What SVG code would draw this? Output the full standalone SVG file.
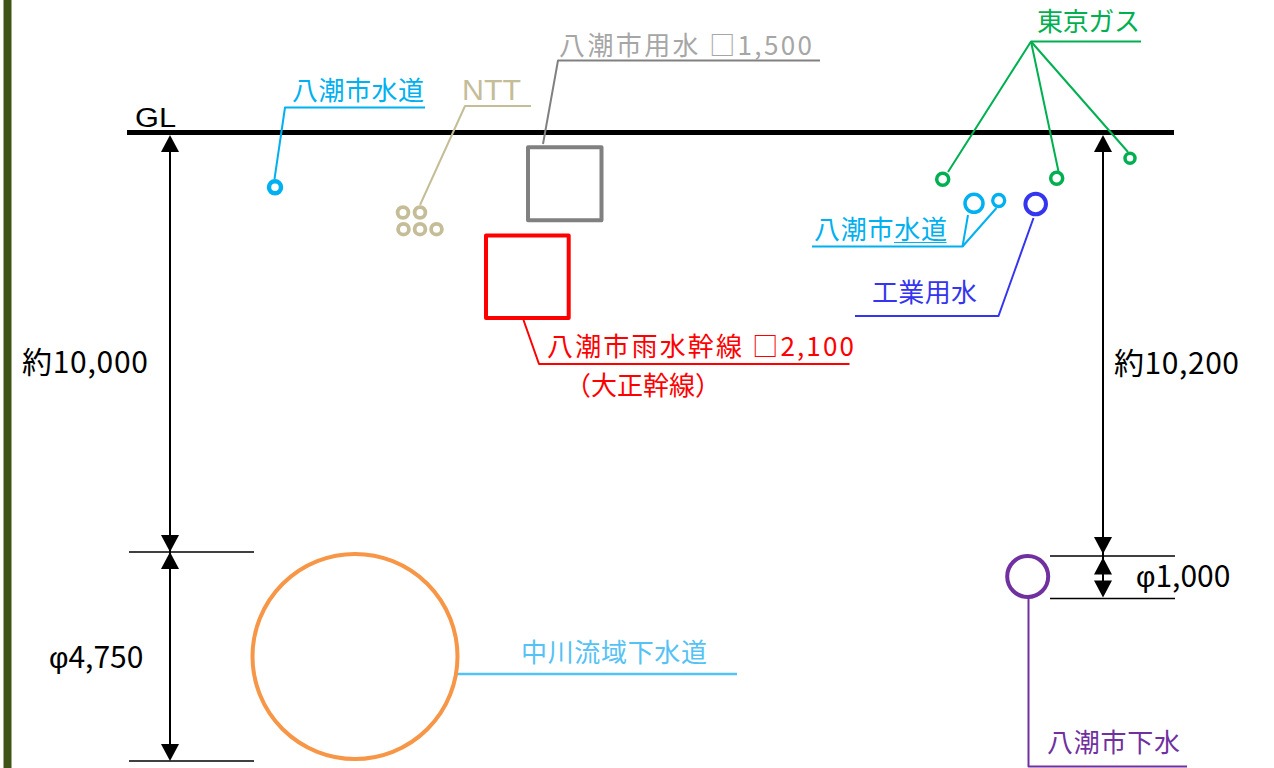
<svg xmlns="http://www.w3.org/2000/svg" width="1274" height="768" viewBox="0 0 1274 768">
<style>
text{font-family:"Noto Sans CJK JP","Noto Sans",sans-serif;}
.jp{font-size:26px;}
.dim{font-size:30px;fill:#000;}
.lat{font-family:"Liberation Sans",sans-serif;}
.phi{font-family:"Liberation Sans",sans-serif;}
.ldr{fill:none;stroke-width:2;stroke-linejoin:round;}
.ext{stroke:#000;stroke-width:1.6;}
.dl{stroke:#000;stroke-width:2;}
.ring{fill:none;}
</style>
<defs>
<path id="ah" d="M0,0 L-9,17 L9,17 Z" fill="#000"/>
</defs>
<rect x="0" y="0" width="1274" height="768" fill="#fff"/>
<rect x="3.5" y="0" width="8" height="768" fill="#405418"/>

<g id="ground">
<line x1="127" y1="132.5" x2="1174" y2="132.5" stroke="#000" stroke-width="5"/>
<text class="lat" x="135" y="126.5" style="font-size:27px" textLength="41" lengthAdjust="spacingAndGlyphs">GL</text>
</g>

<g id="connectors">
<polyline class="ldr" stroke="#00B0F0" points="274.5,179 285,107.5 425,107.5"/>
<polyline class="ldr" stroke="#C4BD97" points="420,205 465,106 531,106"/>
<polyline class="ldr" stroke="#808080" points="543,144 558,60.5 820,60.5"/>
<polyline class="ldr" stroke="#FF0000" points="523.5,320 539,364 849.5,364"/>
<polyline class="ldr" stroke="#00B050" points="948,172 1031,41.5 1141,41.5"/>
<polyline class="ldr" stroke="#00B050" points="1058.5,171.5 1031,41.5"/>
<polyline class="ldr" stroke="#00B050" points="1128,152 1031,41.5"/>
<polyline class="ldr" stroke="#00B0F0" points="812,246.5 962.5,246.5 968,215"/>
<polyline class="ldr" stroke="#00B0F0" points="962.5,246.5 996.5,208"/>
<polyline class="ldr" stroke="#3535F0" points="1033.5,218 998.5,316 855,316"/>
<polyline class="ldr" stroke="#7030A0" points="1028.5,598 1028.5,766.5 1187,766.5"/>
<line x1="457" y1="674" x2="737" y2="674" stroke="#55C2F5" stroke-width="2.5"/>
</g>

<g id="dimension-left">
<line class="ext" x1="129" y1="552" x2="254" y2="552"/>
<line class="ext" x1="129" y1="761" x2="254" y2="761"/>
<line class="dl" x1="170" y1="140" x2="170" y2="755"/>
<use href="#ah" transform="translate(170,135)"/>
<use href="#ah" transform="translate(170,552) rotate(180)"/>
<use href="#ah" transform="translate(170,552)"/>
<use href="#ah" transform="translate(170,761) rotate(180)"/>
<text class="dim" x="22" y="373" textLength="126" lengthAdjust="spacing">約10,000</text>
<text class="dim" x="49" y="668"><tspan class="phi">φ</tspan>4,750</text>
</g>

<g id="dimension-right">
<line class="ext" x1="1050" y1="556" x2="1175" y2="556"/>
<line class="ext" x1="1050" y1="598.5" x2="1175" y2="598.5"/>
<line class="dl" x1="1103" y1="140" x2="1103" y2="592"/>
<use href="#ah" transform="translate(1103,135)"/>
<use href="#ah" transform="translate(1103,554) rotate(180)"/>
<use href="#ah" transform="translate(1103,557.5)"/>
<use href="#ah" transform="translate(1103,597.5) rotate(180)"/>
<text class="dim" x="1114" y="373.5" textLength="125" lengthAdjust="spacing">約10,200</text>
<text class="dim" x="1136" y="586.5"><tspan class="phi">φ</tspan>1,000</text>
</g>

<g id="yashio-water-left">
<circle class="ring" cx="275" cy="187.3" r="6" stroke="#00B0F0" stroke-width="4.5"/>
<text class="jp" x="292" y="100" fill="#00B0F0" textLength="132" lengthAdjust="spacing">八潮市水道</text>
</g>

<g id="ntt">
<g class="ring" stroke="#C4BD97" stroke-width="3.8">
<circle cx="403" cy="212.5" r="5.4"/>
<circle cx="420" cy="212.5" r="5.4"/>
<circle cx="403.5" cy="229.2" r="5.4"/>
<circle cx="420" cy="229.2" r="5.4"/>
<circle cx="436.5" cy="229.2" r="5.4"/>
</g>
<text class="lat" x="462" y="100" style="font-size:29px" fill="#C4BD97" textLength="59" lengthAdjust="spacingAndGlyphs">NTT</text>
</g>

<g id="yashio-yosui">
<rect x="528" y="147.3" width="73.5" height="73" fill="none" stroke="#808080" stroke-width="4" stroke-linejoin="round"/>
<text class="jp" x="559" y="54.5" fill="#A6A6A6" textLength="253" lengthAdjust="spacing">八潮市用水 □1,500</text>
</g>

<g id="taisho-trunk">
<rect x="486" y="235.5" width="82.7" height="82.5" fill="none" stroke="#FF0000" stroke-width="4" stroke-linejoin="round"/>
<text class="jp" x="547" y="355.5" fill="#FF0000" textLength="307" lengthAdjust="spacing">八潮市雨水幹線 □2,100</text>
<text class="jp" x="565" y="395" fill="#FF0000">（大正幹線）</text>
</g>

<g id="tokyo-gas">
<g class="ring" stroke="#00B050" stroke-width="3.5">
<circle cx="942.7" cy="179.3" r="6"/>
<circle cx="1056.7" cy="178.3" r="6"/>
<circle cx="1130" cy="158.3" r="5"/>
</g>
<text class="jp" x="1037" y="30.5" fill="#00B050" textLength="103" lengthAdjust="spacing">東京ガス</text>
</g>

<g id="yashio-water-right">
<circle class="ring" cx="974" cy="203.3" r="9" stroke="#00B0F0" stroke-width="3.5"/>
<circle class="ring" cx="998.7" cy="200.5" r="6" stroke="#00B0F0" stroke-width="3.3"/>
<text class="jp" x="814" y="239" fill="#00B0F0" textLength="133" lengthAdjust="spacing">八潮市水道</text>
<line x1="894" y1="242.5" x2="946.5" y2="242.5" stroke="#00B0F0" stroke-width="1.2"/>
</g>

<g id="industrial-water">
<circle class="ring" cx="1035.7" cy="204" r="10.3" stroke="#3535F0" stroke-width="4"/>
<text class="jp" x="872" y="302" fill="#3535F0" textLength="105" lengthAdjust="spacing">工業用水</text>
</g>

<g id="nakagawa-sewer">
<circle class="ring" cx="355" cy="656.5" r="102.5" stroke="#F79646" stroke-width="4"/>
<text class="jp" x="521" y="661.5" fill="#55C2F5" textLength="186" lengthAdjust="spacing">中川流域下水道</text>
</g>

<g id="yashio-sewer">
<circle class="ring" cx="1027.7" cy="576.5" r="20.5" stroke="#7030A0" stroke-width="4"/>
<text class="jp" x="1047" y="752" fill="#7030A0" textLength="133" lengthAdjust="spacing">八潮市下水</text>
</g>
</svg>
